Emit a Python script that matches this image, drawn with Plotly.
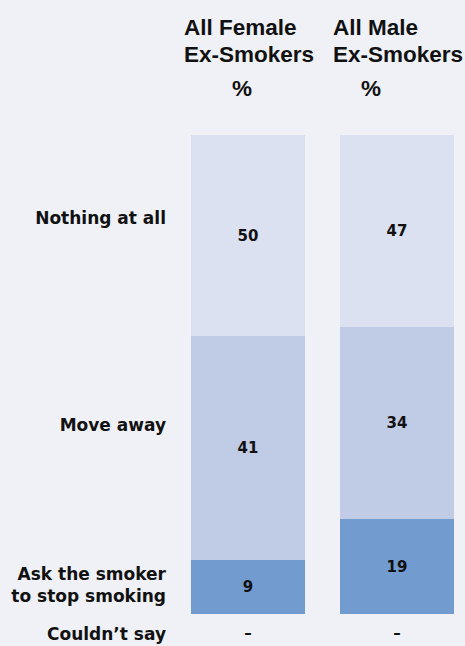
import plotly.graph_objects as go

# ---- data ----
groups = ["All Female Ex-Smokers", "All Male Ex-Smokers"]
header_line1 = ["All Female", "All Male"]
header_line2 = ["Ex-Smokers", "Ex-Smokers"]
responses = ["Ask the smoker to stop smoking", "Move away", "Nothing at all"]
# printed percentages (bottom segment first)
labels_ask = [9, 19]
labels_move = [41, 34]
labels_nothing = [50, 47]
# drawn segment heights (share of bar height, %)
heights_ask = [11.3, 19.8]
heights_move = [46.8, 40.1]
heights_nothing = [41.9, 40.1]
couldnt_say = ["–", "–"]
row_labels = ["Nothing at all", "Move away", "Ask the smoker<br>to stop smoking", "Couldn’t say"]
row_positions = [82.7, 39.5, 6.0, -4.2]

colors = {"ask": "#729bcf", "move": "#c0cbe6", "nothing": "#dce1f2"}
bg = "#f0f1f7"
xpos = [0, 1]
pct_offset = [-0.04, -0.175]

fig = go.Figure()
for name, h, lab, col in [
    (responses[0], heights_ask, labels_ask, colors["ask"]),
    (responses[1], heights_move, labels_move, colors["move"]),
    (responses[2], heights_nothing, labels_nothing, colors["nothing"]),
]:
    fig.add_trace(go.Bar(
        x=xpos, y=h, name=name, width=0.765,
        marker=dict(color=col, line=dict(width=0)),
        text=[str(v) for v in lab], textposition="inside",
        insidetextanchor="middle", textangle=0,
        textfont=dict(family="DejaVu Sans", size=15, color="#111111", weight="bold"),
        hoverinfo="skip",
    ))

fig.add_trace(go.Scatter(
    x=xpos, y=[row_positions[3]] * 2, mode="text", text=couldnt_say,
    textfont=dict(family="DejaVu Sans", size=15, color="#111111", weight="bold"),
    hoverinfo="skip", showlegend=False,
))

hfont = dict(family="Liberation Sans, Arial", size=22.5, color="#111111", weight="bold")
annotations = []
for i in range(2):
    annotations.append(dict(
        x=xpos[i] - 0.44, y=27, xref="x", yref="paper",
        xanchor="left", text=header_line1[i], showarrow=False, font=hfont,
    ))
    annotations.append(dict(
        x=xpos[i] - 0.44, y=54, xref="x", yref="paper", xanchor="left",
        text=header_line2[i], showarrow=False, font=hfont,
    ))
    annotations.append(dict(
        x=xpos[i] + pct_offset[i], y=89, xref="x", yref="paper", xanchor="center",
        text="%", showarrow=False, font=hfont,
    ))

# convert header pixel rows (from top of page) to paper coords
H = 646
T = 135
B = 0
ph = H - T - B
for a in annotations:
    a["y"] = (H - B - a["y"]) / ph
    a["yanchor"] = "middle"

fig.update_layout(
    width=465, height=646,
    margin=dict(l=174, r=0, t=T, b=B, pad=0),
    paper_bgcolor=bg, plot_bgcolor=bg,
    barmode="stack", bargap=0, showlegend=False,
    annotations=annotations,
    xaxis=dict(range=[-0.4966, 1.4564], showgrid=False, zeroline=False,
               showticklabels=False, ticks="", fixedrange=True),
    yaxis=dict(range=[-6.68, 100], showgrid=False, zeroline=False,
               tickmode="array", tickvals=row_positions, ticktext=row_labels,
               ticks="", ticklabelstandoff=7,
               tickfont=dict(family="DejaVu Sans", size=17, color="#111111", weight="bold"),
               fixedrange=True),
)

fig.write_html("out.html")
